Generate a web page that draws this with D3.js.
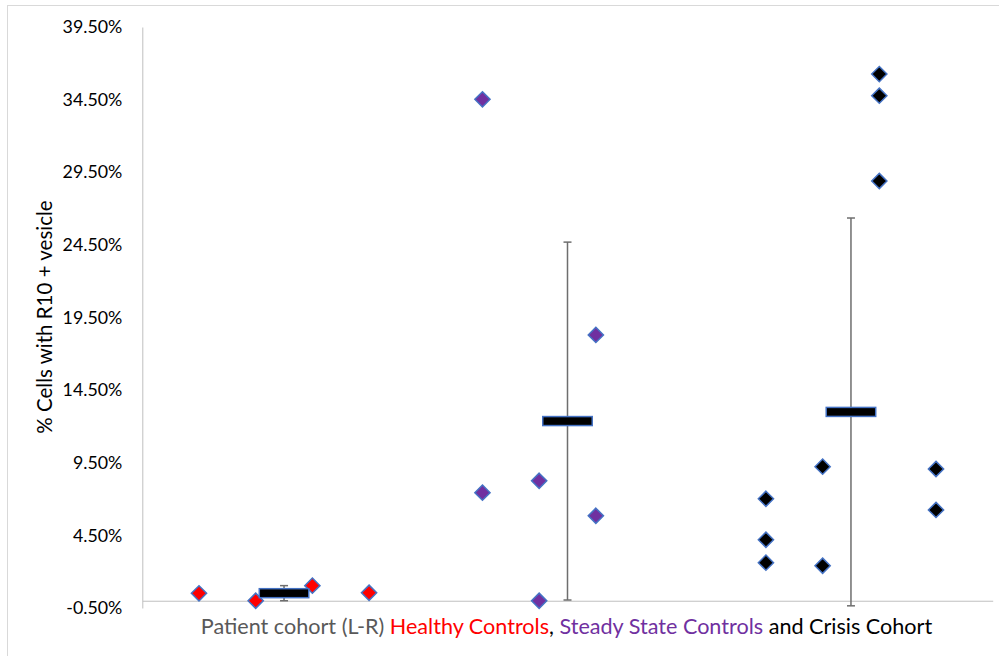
<!DOCTYPE html>
<html>
<head>
<meta charset="utf-8">
<script src="https://cdn.jsdelivr.net/npm/d3@7"></script>
<style>
  html, body { margin: 0; padding: 0; background: #fff; }
  svg { display: block; font-family: Lato, "Open Sans", sans-serif; }
</style>
</head>
<body>
<svg id="chart" width="999" height="656"></svg>
<script>
// Individual measurements (% of cells with R10+ vesicle), positioned along the cohort axis
const healthyX = [1, 2, 3, 4];
const healthyY = [0.51, 0.0, 1.04, 0.55];

const steadyX = [6, 6, 7, 7, 8, 8];
const steadyY = [34.52, 7.44, 8.26, 0.0, 18.30, 5.85];

const crisisX = [11, 11, 11, 12, 12, 13, 13, 13, 14, 14];
const crisisY = [7.02, 4.20, 2.62, 9.23, 2.41, 36.26, 34.77, 28.90, 9.07, 6.25];

// Group means with their standard-deviation error bars
const groupX = [2.5, 7.5, 12.5];
const groupMean = [0.52, 12.37, 13.0];
const groupErr = [0.52, 12.32, 13.35];

const yTicks = [-0.5, 4.5, 9.5, 14.5, 19.5, 24.5, 29.5, 34.5, 39.5];

const cohortColors = { healthy: "#FF0000", steady: "#7030A0", crisis: "#000000" };

const svg = d3.select("#chart");

// outer chart frame
svg.append("rect")
  .attr("x", 7.5).attr("y", 5.5)
  .attr("width", 1100).attr("height", 800)
  .attr("fill", "#fff").attr("stroke", "#D9D9D9").attr("stroke-width", 1);

const x = d3.scaleLinear().domain([0, 15]).range([142.3, 992.7]);
const y = d3.scaleLinear().domain([-0.5, 39.5]).range([608, 27]);

// value axis; labels use a plain hyphen for negatives
const pct = d3.format(".2%");
const yAxis = svg.append("g")
  .attr("transform", `translate(${x(0)},0)`)
  .call(d3.axisLeft(y).tickValues(yTicks).tickSize(0).tickPadding(20)
    .tickFormat(d => pct(d / 100).replace("\u2212", "-")));
yAxis.select(".domain").attr("stroke", "#BFBFBF").attr("stroke-width", 1);
yAxis.selectAll("text")
  .attr("font-family", "Lato, sans-serif")
  .attr("font-size", 17.8)
  .attr("fill", "#000");

// horizontal axis crosses at zero
const xAxis = svg.append("g")
  .attr("transform", `translate(0,${y(0)})`)
  .call(d3.axisBottom(x).tickValues([]).tickSize(0));
xAxis.select(".domain").attr("stroke", "#BFBFBF").attr("stroke-width", 1);

const diamond = r => `M0,${-r}L${r},0L0,${r}L${-r},0Z`;

function drawPoints(xs, ys, color) {
  svg.append("g").selectAll("path")
    .data(xs.map((d, i) => [d, ys[i]]))
    .join("path")
    .attr("d", diamond(7.6))
    .attr("transform", d => `translate(${x(d[0])},${y(d[1])})`)
    .attr("fill", color)
    .attr("stroke", "#4472C4")
    .attr("stroke-width", 1.5);
}
drawPoints(healthyX, healthyY, cohortColors.healthy);
drawPoints(steadyX, steadyY, cohortColors.steady);
drawPoints(crisisX, crisisY, cohortColors.crisis);

// error bars (mean ± SD)
const eb = svg.append("g").attr("stroke", "#6E6E6E").attr("stroke-width", 1.5);
groupX.forEach((gx, i) => {
  const top = y(groupMean[i] + groupErr[i]);
  const bot = y(groupMean[i] - groupErr[i]);
  const cx = x(gx);
  eb.append("line").attr("x1", cx).attr("x2", cx).attr("y1", top).attr("y2", bot);
  eb.append("line").attr("x1", cx - 4).attr("x2", cx + 4).attr("y1", top).attr("y2", top);
  eb.append("line").attr("x1", cx - 4).attr("x2", cx + 4).attr("y1", bot).attr("y2", bot);
});

// mean markers
svg.append("g").selectAll("rect")
  .data(groupX.map((d, i) => [d, groupMean[i]]))
  .join("rect")
  .attr("x", d => x(d[0]) - 24.75)
  .attr("y", d => y(d[1]) - 4.5)
  .attr("width", 49.5)
  .attr("height", 9)
  .attr("fill", "#000")
  .attr("stroke", "#4472C4")
  .attr("stroke-width", 1.5);

// axis titles
svg.append("text")
  .attr("transform", "translate(52,317) rotate(-90)")
  .attr("text-anchor", "middle")
  .attr("font-family", "Lato, sans-serif")
  .attr("font-size", 20.5)
  .attr("fill", "#000")
  .text("% Cells with R10 + vesicle");

const xt = svg.append("text")
  .attr("x", 566.5).attr("y", 634)
  .attr("text-anchor", "middle")
  .attr("font-family", "Lato, sans-serif")
  .attr("font-size", 21.6);
xt.append("tspan").attr("fill", "#595959").text("Patient cohort (L-R) ");
xt.append("tspan").attr("fill", cohortColors.healthy).text("Healthy Controls");
xt.append("tspan").attr("fill", "#000").text(", ");
xt.append("tspan").attr("fill", cohortColors.steady).text("Steady State Controls");
xt.append("tspan").attr("fill", "#000").text(" and Crisis Cohort");
</script>
</body>
</html>
